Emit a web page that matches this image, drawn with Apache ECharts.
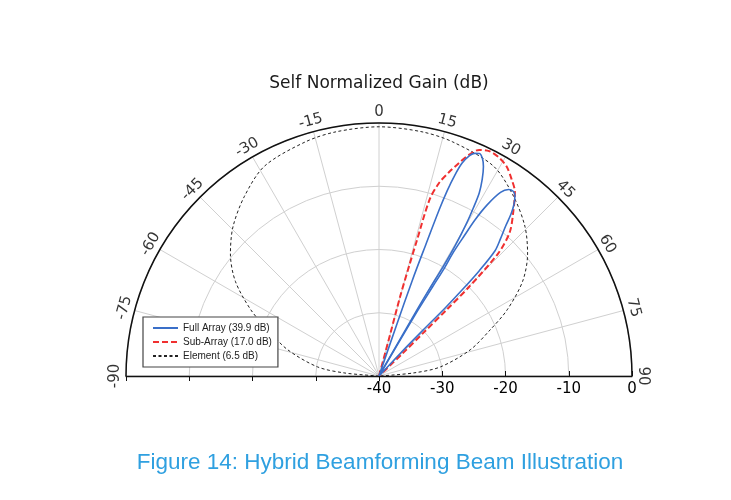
<!DOCTYPE html>
<html>
<head>
<meta charset="utf-8">
<script src="https://cdn.jsdelivr.net/npm/echarts@6/dist/echarts.min.js"></script>
<style>
  html, body { margin: 0; padding: 0; background: #fff; }
  #main { width: 731px; height: 500px; }
</style>
</head>
<body>
<div id="main"></div>
<script type="text/javascript">
    // tick labels
    var angleTicks = [-90, -75, -60, -45, -30, -15, 0, 15, 30, 45, 60, 75, 90];
    var radiusTicks = [-40, -30, -20, -10, 0];

    // Full Array, beam steered near 24 deg (angle deg, gain dB)
    var fullADeg = [18.8, 19.0, 19.2, 19.6, 19.9, 20.2, 20.7, 21.3, 22.2, 23.2, 24.3, 25.4, 26.5, 27.7, 28.7, 29.3, 29.8, 30.3, 30.4, 30.1, 29.9, 29.7];
    var fullADb = [-40, -32, -24, -18, -12, -8.8, -6, -3.9, -2.5, -1.7, -1.4, -1.9, -3.0, -4.9, -7.0, -9.5, -12, -16, -20, -24, -28, -40];

    // Full Array, beam steered near 36 deg
    var fullBDeg = [30.4, 30.6, 31.0, 31.2, 31.0, 31.3, 31.6, 32.3, 33.5, 34.8, 36.0, 37.0, 38.2, 39.2, 40.2, 41.5, 42.8, 43.6, 44.0, 44.2, 43.8, 43.2, 42.6];
    var fullBDb = [-40, -28, -23.5, -20, -17.2, -14, -11, -8, -5.2, -4.1, -3.9, -4.3, -5.5, -7.0, -9.0, -11, -13, -17, -21, -25, -30, -35, -40];

    // Sub-Array
    var subDeg = [15.2, 15.0, 14.9, 15.3, 15.6, 16.0, 17.3, 18.9, 20.6, 22.2, 23.9, 26.1, 28.8, 31.3, 34.0, 36.4, 39.2, 42.3, 44.2, 45.3, 45.6, 45.8, 46.3, 47.0];
    var subDb = [-40, -33, -27, -22, -18, -11, -8, -6, -4, -2.2, -0.9, -0.4, -0.6, -1.2, -2.5, -3.8, -6.4, -9.3, -13, -20, -25, -30, -35, -40];

    // Element
    var elemDeg = [-90, -85, -81.6, -74, -67.5, -62.7, -56.6, -50.6, -44.4, -36.8, -28.6, -17.5, -10, 0, 10, 17.5, 28.6, 36.8, 44.4, 50.6, 56.6, 62.7, 67.5, 74, 81.6, 85, 90];
    var elemDb = [-40, -34.6, -30.2, -25, -21, -17.2, -12.8, -9.6, -7.0, -4.5, -2.2, -1.2, -0.8, -0.6, -0.8, -1.2, -2.2, -4.5, -7.0, -9.6, -12.8, -17.2, -21, -25, -30.2, -34.6, -40];

    var toPolar = function (deg, db) {
        return deg.map(function (a, i) { return [db[i], a]; });
    };

    var textFont = 'DejaVu Sans';
    var cx = 379, cy = 376, rOuter = 253;

    var myChart = echarts.init(document.getElementById('main'));

    var option = {
        backgroundColor: '#fff',
        animation: false,
        graphic: [
            {
                type: 'text', x: 379, y: 75,
                style: { text: 'Self Normalized Gain (dB)', textAlign: 'center', fill: '#1a1a1a', font: '17px "DejaVu Sans"' }
            },
            {
                type: 'text', x: 380, y: 451,
                style: { text: 'Figure 14: Hybrid Beamforming Beam Illustration', textAlign: 'center', fill: '#2fa0e0', font: '22.5px "Liberation Sans"' }
            }
        ],
        legend: {
            orient: 'vertical',
            left: 143,
            top: 317,
            padding: [6, 6, 6, 9],
            itemWidth: 25,
            itemHeight: 10,
            itemGap: 4,
            borderColor: '#444',
            borderWidth: 1.2,
            borderRadius: 0,
            backgroundColor: '#fff',
            itemStyle: { opacity: 0 },
            textStyle: { fontSize: 10, color: '#222', fontFamily: "'Liberation Sans Narrow', 'Liberation Sans', sans-serif" },
            data: ['Full Array (39.9 dB)', 'Sub-Array (17.0 dB)', 'Element (6.5 dB)']
        },
        polar: {
            center: [cx, cy],
            radius: rOuter
        },
        angleAxis: {
            type: 'value',
            min: -90,
            max: 90,
            interval: 15,
            startAngle: 180,
            endAngle: 0,
            clockwise: true,
            axisLine: { lineStyle: { color: '#111', width: 1.5 } },
            axisTick: { show: false },
            axisLabel: { show: false },
            splitLine: { lineStyle: { color: '#d0d0d0', width: 1 } }
        },
        radiusAxis: {
            type: 'value',
            min: -40,
            max: 0,
            interval: 10,
            axisLine: { show: false },
            axisTick: { show: false },
            axisLabel: { show: false },
            splitLine: { lineStyle: { color: '#d0d0d0', width: 1 } }
        },
        grid: [
            { left: 126, width: 253, top: 300, height: 76 },
            { left: 379, width: 253, top: 300, height: 76 }
        ],
        xAxis: [
            {
                gridIndex: 0, type: 'value', min: -40, max: 0, interval: 10, inverse: true,
                axisLine: { lineStyle: { color: '#111', width: 1.3 } },
                axisTick: { length: 5, lineStyle: { color: '#111' } },
                axisLabel: { show: false },
                splitLine: { show: false }
            },
            {
                gridIndex: 1, type: 'value', min: -40, max: 0, interval: 10,
                axisLine: { lineStyle: { color: '#111', width: 1.3 } },
                axisTick: { inside: true, length: 5, lineStyle: { color: '#111' } },
                axisLabel: {
                    color: '#000', fontSize: 15, fontFamily: textFont, margin: 6, showMinLabel: true, showMaxLabel: true,
                    formatter: function (v) { return radiusTicks.indexOf(v) >= 0 ? String(v) : ''; }
                },
                splitLine: { show: false }
            }
        ],
        yAxis: [
            { gridIndex: 0, show: false, min: 0, max: 1 },
            { gridIndex: 1, show: false, min: 0, max: 1 }
        ],
        series: [
            {
                name: 'Element (6.5 dB)',
                type: 'line',
                coordinateSystem: 'polar',
                symbol: 'none',
                smooth: 0.3,
                itemStyle: { color: '#222' },
                lineStyle: { color: '#222', width: 1, type: [3, 2.5] },
                data: toPolar(elemDeg, elemDb)
            },
            {
                name: 'Sub-Array (17.0 dB)',
                type: 'line',
                coordinateSystem: 'polar',
                symbol: 'none',
                smooth: 0.3,
                itemStyle: { color: '#ff6b6b' },
                lineStyle: { color: '#f03030', width: 2, type: [6, 3] },
                data: toPolar(subDeg, subDb)
            },
            {
                name: 'Full Array (39.9 dB)',
                type: 'line',
                coordinateSystem: 'polar',
                symbol: 'none',
                smooth: 0.3,
                itemStyle: { color: '#3a6fc8' },
                lineStyle: { color: '#3a6fc8', width: 1.6 },
                data: toPolar(fullADeg, fullADb)
            },
            {
                name: 'Full Array (39.9 dB)',
                type: 'line',
                coordinateSystem: 'polar',
                symbol: 'none',
                smooth: 0.3,
                itemStyle: { color: '#3a6fc8' },
                lineStyle: { color: '#3a6fc8', width: 1.6 },
                data: toPolar(fullBDeg, fullBDb)
            },
            {
                // angle tick labels, turned to follow the arc
                type: 'scatter',
                coordinateSystem: 'polar',
                silent: true,
                clip: false,
                symbolSize: 0,
                data: angleTicks.map(function (a) {
                    return {
                        value: [1.7, a],
                        label: { rotate: -a }
                    };
                }),
                label: {
                    show: true,
                    position: 'inside',
                    color: '#000',
                    fontSize: 15,
                    fontFamily: textFont,
                    formatter: function (p) { return String(p.value[1]); }
                }
            }
        ]
    };
    myChart.setOption(option);
</script>
</body>
</html>
